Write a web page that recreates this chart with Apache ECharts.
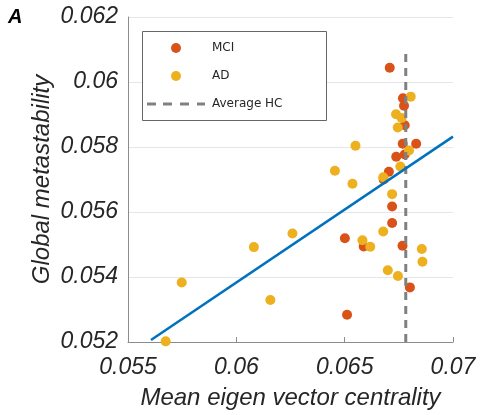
<!DOCTYPE html>
<html>
<head>
<meta charset="utf-8">
<script src="https://cdn.jsdelivr.net/npm/echarts@6/dist/echarts.min.js"></script>
<style>
  html, body { margin: 0; padding: 0; background: #fff; }
  #main { width: 480px; height: 415px; }
</style>
</head>
<body>
<div id="main"></div>
<script>
// values
var mciX = [0.06708, 0.06769, 0.06774, 0.06777, 0.06768, 0.06830, 0.06738, 0.06777, 0.06704,
  0.06680, 0.06719, 0.06719, 0.06501, 0.06588, 0.06767, 0.06801, 0.06511];
var mciY = [0.06044, 0.05950, 0.05927, 0.05867, 0.05810, 0.05810, 0.05770, 0.05777, 0.05724,
  0.05700, 0.05617, 0.05566, 0.05519, 0.05494, 0.05496, 0.05368, 0.05284];
var adX = [0.06805, 0.06737, 0.06763, 0.06745, 0.06797, 0.06757, 0.06678, 0.06550, 0.06455,
  0.06536, 0.06719, 0.06678, 0.06582, 0.06618, 0.06856, 0.06859, 0.06699, 0.06746,
  0.06157, 0.05748, 0.06081, 0.06259, 0.05674];
var adY = [0.05955, 0.05901, 0.05889, 0.05860, 0.05789, 0.05740, 0.05707, 0.05804, 0.05727,
  0.05687, 0.05655, 0.05540, 0.05513, 0.05493, 0.05486, 0.05447, 0.05421, 0.05403,
  0.05329, 0.05383, 0.05492, 0.05534, 0.05202];
var fitX = [0.05606, 0.07];
var fitY = [0.05206, 0.05832];
var hcX = [0.06782, 0.06782];
var hcY = [0.052, 0.061];

var xTicks = { min: 0.055, max: 0.07, step: 0.005 };
var yTicks = { min: 0.052, max: 0.062, step: 0.002 };

function zip(a, b) {
  var out = [];
  for (var i = 0; i < a.length; i++) out.push([a[i], b[i]]);
  return out;
}

var txt = '#262626';
var tickFont = { fontFamily: 'Liberation Sans', fontStyle: 'italic', fontSize: 23, color: txt };
// dashed icon for the legend entry
var dashIcon = 'path://M0,0h9v3h-9z M16,0h9v3h-9z M33,0h9v3h-9z M50,0h8v3h-8z';

var chart = echarts.init(document.getElementById('main'));
var option = {
  animation: false,
  grid: { left: 128, right: 27, top: 17, bottom: 73 },
  xAxis: {
    type: 'value',
    min: xTicks.min, max: xTicks.max, interval: xTicks.step,
    name: 'Mean eigen vector centrality',
    nameLocation: 'middle',
    nameGap: 44,
    nameMoveOverlap: false,
    nameTextStyle: { fontFamily: 'Liberation Sans', fontStyle: 'italic', fontSize: 24, color: txt },
    axisLine: { lineStyle: { color: '#8c8c8c', width: 1 } },
    axisTick: { inside: true, length: 5, lineStyle: { color: '#8c8c8c' } },
    axisLabel: Object.assign({ margin: 14, formatter: function (v) { return +v.toFixed(3); } }, tickFont),
    splitLine: { show: false }
  },
  yAxis: {
    type: 'value',
    min: yTicks.min, max: yTicks.max, interval: yTicks.step,
    name: 'Global metastability',
    nameLocation: 'middle',
    nameGap: 74,
    nameMoveOverlap: false,
    nameTextStyle: { fontFamily: 'Liberation Sans', fontStyle: 'italic', fontSize: 24, color: txt },
    axisLine: { show: true, lineStyle: { color: '#8c8c8c', width: 1 } },
    axisTick: { show: false },
    axisLabel: Object.assign({ margin: 10, formatter: function (v) { return +v.toFixed(3); } }, tickFont),
    splitLine: { show: true, lineStyle: { color: '#e6e6e6', width: 1 } }
  },
  legend: {
    left: 147, top: 42,
    orient: 'vertical',
    padding: 0,
    itemWidth: 58, itemHeight: 10, itemGap: 16,
    textStyle: { fontFamily: 'DejaVu Sans', fontSize: 12, color: txt, padding: [0, 0, 0, 2] },
    data: [
      { name: 'MCI', icon: 'circle' },
      { name: 'AD', icon: 'circle' },
      { name: 'Average HC', icon: dashIcon }
    ]
  },
  graphic: [
    { type: 'rect', z: 3, shape: { x: 142.5, y: 31.5, width: 184, height: 89 },
      style: { fill: '#fff', stroke: '#666', lineWidth: 1 } },
    { type: 'text', left: 8, top: 7,
      style: { text: 'A', font: 'italic bold 20px "Liberation Sans"', fill: '#000' } }
  ],
  series: [
    { name: 'MCI', type: 'scatter', data: zip(mciX, mciY), symbolSize: 10,
      itemStyle: { color: '#D95319', opacity: 1 } },
    { name: 'AD', type: 'scatter', data: zip(adX, adY), symbolSize: 10,
      itemStyle: { color: '#EDB120', opacity: 1 } },
    { name: 'Average HC', type: 'line', data: zip(hcX, hcY), symbol: 'none',
      lineStyle: { color: '#808080', width: 3, type: [8, 6] }, itemStyle: { color: '#808080' } },
    { name: 'fit', type: 'line', data: zip(fitX, fitY), symbol: 'none',
      lineStyle: { color: '#0072BD', width: 2.5 } }
  ]
};
chart.setOption(option);
</script>
</body>
</html>
